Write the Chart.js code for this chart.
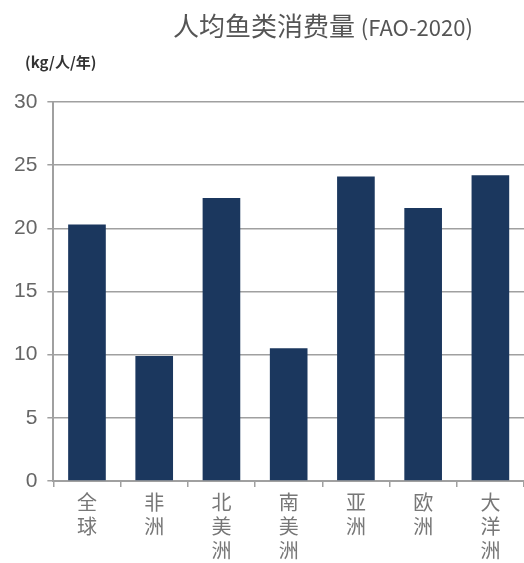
<!DOCTYPE html>
<html>
<head>
<meta charset="utf-8">
<script src="https://cdn.jsdelivr.net/npm/chart.js@4"></script>
<style>
  html, body { margin: 0; padding: 0; background: #fff; overflow: hidden; }
  .wrap { position: relative; width: 524px; height: 563px; overflow: hidden; }
  .title { position: absolute; left: 173px; top: 7px; white-space: nowrap;
    font-family: "Noto Sans CJK SC", sans-serif; color: #555; font-size: 26px; line-height: 36px; }
  .title small { font-size: 22px; }
  .unit { position: absolute; left: 25px; top: 51px; font-family: "Noto Sans CJK SC", sans-serif;
    color: #333; font-size: 15px; font-weight: bold; }
  canvas { position: absolute; left: 0; top: 0; }
</style>
</head>
<body>
<div class="wrap">
  <canvas id="chart" width="524" height="565"></canvas>
  <div class="title">人均鱼类消费量 <small>(FAO-2020)</small></div>
  <div class="unit">(kg/人/年)</div>
</div>
<script>
  const regions = ["全球", "非洲", "北美洲", "南美洲", "亚洲", "欧洲", "大洋洲"];
  const consumption = [20.3, 9.9, 22.4, 10.5, 24.1, 21.6, 24.2];
  const yTicks = [0, 5, 10, 15, 20, 25, 30];

  const ctx = document.getElementById("chart").getContext("2d");
  const gray = "#a0a0a0";

  new Chart(ctx, {
    type: "bar",
    data: {
      // vertical labels: one character per line
      labels: regions.map((r) => r.split("")),
      datasets: [
        {
          data: consumption,
          backgroundColor: "#1b375e",
          barPercentage: 0.56,
          categoryPercentage: 1,
        },
      ],
    },
    options: {
      responsive: false,
      animation: false,
      layout: { padding: { top: 102, left: 4, right: 0, bottom: 0 } },
      plugins: { legend: { display: false }, tooltip: { enabled: false } },
      scales: {
        x: {
          grid: { drawOnChartArea: false, color: gray, lineWidth: 1.5, tickLength: 6, offset: true },
          border: { color: gray, width: 2 },
          ticks: {
            color: "#777",
            font: { family: "Noto Sans CJK SC", size: 20, lineHeight: 1.2 },
            padding: 3,
            maxRotation: 0,
          },
        },
        y: {
          min: 0,
          max: 30,
          afterBuildTicks: (axis) => {
            axis.ticks = yTicks.map((v) => ({ value: v }));
          },
          grid: { color: gray, lineWidth: 1.5, tickLength: 6 },
          border: { color: gray, width: 2 },
          ticks: {
            color: "#666",
            font: { family: "Liberation Sans", size: 21 },
            padding: 10,
          },
        },
      },
    },
  });
</script>
</body>
</html>
